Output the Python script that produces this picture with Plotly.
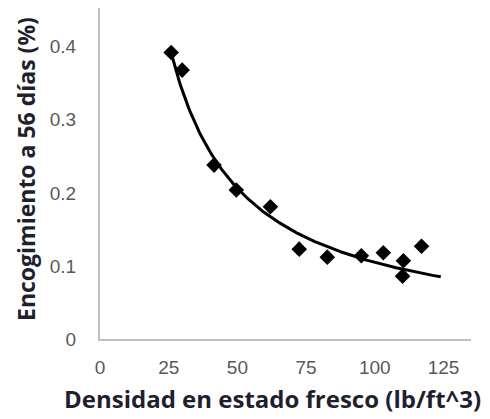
import numpy as np
import plotly.graph_objects as go

densidad = [25.9, 29.9, 41.5, 49.6, 62.0, 72.5, 82.7, 95.1, 103.1, 110.4, 110.1, 117.0]
encogimiento = [0.392, 0.368, 0.238, 0.204, 0.181, 0.123, 0.112, 0.114, 0.118, 0.107, 0.086, 0.127]
x_ticks = [0, 25, 50, 75, 100, 125]
y_ticks = [0, 0.1, 0.2, 0.3, 0.4]
y_tick_labels = ["0", "0.1", "0.2", "0.3", "0.4"]
x_title = "<b>Densidad en estado fresco (lb/ft^3)</b>"
y_title = "<b>Encogimiento a 56 días (%)</b>"

# Power trendline y = a * x^b (coefficients)
trend_a = 9.35
trend_b = -0.975
trend_x_start = 25.9
trend_x_end = 124

xt = np.linspace(trend_x_start, trend_x_end, 200)
yt = trend_a * xt ** trend_b

fig = go.Figure()
fig.add_trace(go.Scatter(x=xt, y=yt, mode="lines",
                         line=dict(color="black", width=3), hoverinfo="skip"))
fig.add_trace(go.Scatter(x=densidad, y=encogimiento, mode="markers",
                         marker=dict(symbol="diamond", size=12, color="black")))

tick_font = dict(family="Liberation Sans, Arial", size=19, color="#595959")
title_font_x = dict(family="Open Sans, Noto Sans", size=24, color="#1f1f2e")
title_font_y = dict(family="Open Sans, Noto Sans", size=23, color="#1f1f2e")

# page body has an 8px margin, so the figure is sized to fill the rest of the window
PW, PH = 371, 331
fig.update_layout(
    width=482, height=411,
    margin=dict(l=92, r=19, t=0, b=80),
    paper_bgcolor="white", plot_bgcolor="white",
    showlegend=False,
    xaxis=dict(range=[0, 135], tickvals=x_ticks, showgrid=False, zeroline=False,
               showline=True, linecolor="#bfbfbf", linewidth=2, automargin=False,
               ticks="", ticklabelstandoff=10, tickfont=tick_font),
    yaxis=dict(range=[0, 0.453], tickvals=y_ticks, ticktext=y_tick_labels,
               showgrid=False, zeroline=False, automargin=False,
               showline=True, linecolor="#bfbfbf", linewidth=2,
               ticks="", ticklabelstandoff=18, tickfont=tick_font),
    annotations=[
        dict(text=x_title, xref="paper", yref="paper", x=(272 - 100) / PW,
             y=(339 - 398) / PH, xanchor="center", yanchor="middle",
             showarrow=False, font=title_font_x),
        dict(text=y_title, xref="paper", yref="paper", x=(26 - 100) / PW,
             y=(339 - 169) / PH, xanchor="center", yanchor="middle",
             textangle=-90, showarrow=False, font=title_font_y),
    ],
)
fig.write_html("out.html")
